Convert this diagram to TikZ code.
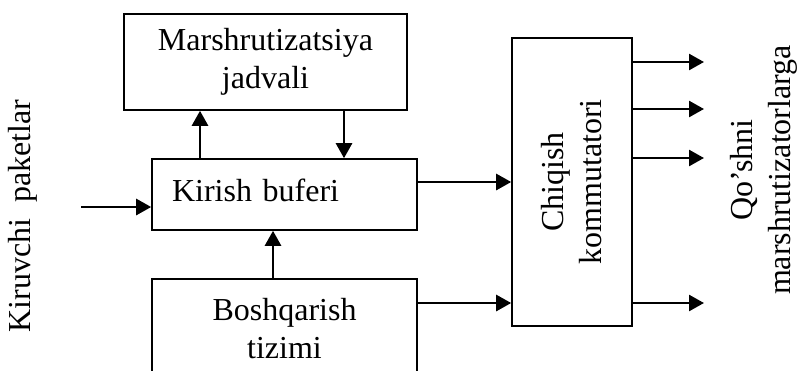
\documentclass[tikz,border=0pt]{standalone}
\usepackage{fontspec}
\setmainfont{Liberation Serif}
\usetikzlibrary{arrows.meta}

\begin{document}
\begin{tikzpicture}[x=1pt,y=-1pt,->,>={Triangle[length=15pt,width=16pt]},
  blok/.style={draw,line width=1.6pt,inner sep=0pt,align=center},
  strelka/.style={line width=2.6pt},
  every node/.style={font=\fontsize{32}{38}\selectfont}]
\useasboundingbox (0,0) rectangle (799,370);
\clip (0,0) rectangle (799,370);
\node[blok,minimum width=283,minimum height=96] (jadval) at (265.5,62) {Marshrutizatsiya\\jadvali};
\node[blok,text width=225,inner xsep=20pt,align=left,text depth=9pt,minimum height=71] (bufer) at (284.5,194.5) {Kirish buferi};
\node[blok,minimum width=265,minimum height=100,anchor=north] (boshqaruv) at (284.5,278) {Boshqarish\\tizimi};
\node[blok,minimum width=120,minimum height=288] (kommutator) at (572,182) {};
\node[rotate=90,align=center] at (kommutator) {Chiqish\\kommutatori};
\node[rotate=90] (kiruvchi) at (23,216) {Kiruvchi\ \ paketlar};
\node[rotate=90,align=center] (qoshni) at (764,170) {Qo’shni\\marshrutizatorlarga};
\coordinate (kirish) at (81,207);
\coordinate (chiqish) at (704,0);

\path[strelka] (kirish) edge (kirish -| bufer.west)
([xshift=-84.5]bufer.north) edge ([xshift=-84.5]bufer.north |- jadval.south)
([xshift=78.5]jadval.south) edge ([xshift=78.5]jadval.south |- bufer.north)
([xshift=-11.5]boshqaruv.north) edge ([xshift=-11.5]boshqaruv.north |- bufer.south)
(bufer.east |- 0,182) edge (kommutator.west |- 0,182)
(boshqaruv.east |- 0,303) edge (kommutator.west |- 0,303);
\foreach \y in {62,109,158,303}
  \draw[strelka] (kommutator.east |- 0,\y) -- (chiqish |- 0,\y);
\end{tikzpicture}
\end{document}
